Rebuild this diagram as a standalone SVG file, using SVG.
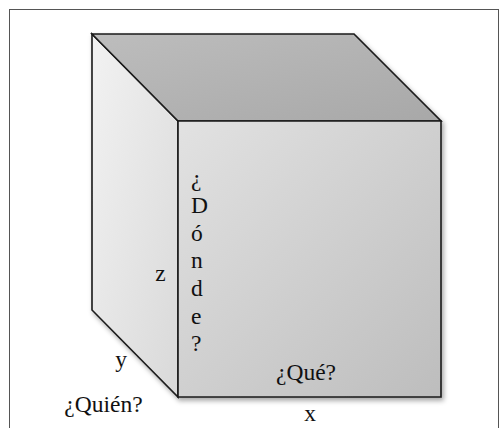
<svg xmlns="http://www.w3.org/2000/svg" width="504" height="428" viewBox="0 0 504 428">
<defs>
<linearGradient id="gLeft" x1="0" y1="0" x2="1" y2="1">
<stop offset="0" stop-color="#f2f2f2"/>
<stop offset="1" stop-color="#d9d9d9"/>
</linearGradient>
<linearGradient id="gTop" x1="0" y1="0" x2="1" y2="1">
<stop offset="0" stop-color="#bdbdbd"/>
<stop offset="1" stop-color="#a8a8a8"/>
</linearGradient>
<linearGradient id="gFront" x1="0" y1="0" x2="1" y2="1">
<stop offset="0" stop-color="#e2e2e2"/>
<stop offset="1" stop-color="#bdbdbd"/>
</linearGradient>
<filter id="shadow" x="-10%" y="-10%" width="125%" height="125%">
<feDropShadow dx="2" dy="3" stdDeviation="2.5" flood-color="#000" flood-opacity="0.35"/>
</filter>
</defs>
<style>
.edge{stroke:#1a1a1a;stroke-width:1.6;stroke-linejoin:miter}
.t{font-family:"Liberation Serif","Times New Roman",serif;font-size:23.5px;fill:#111}
</style>
<rect x="9.5" y="9.5" width="489" height="440" fill="#fff" stroke="#555" stroke-width="1"/>
<g id="cube" filter="url(#shadow)">
<polygon id="left-face" class="edge" points="92,34 178,121 178,397 92,310" fill="url(#gLeft)"/>
<polygon id="top-face" class="edge" points="92,34 354,34 441,121 178,121" fill="url(#gTop)"/>
<polygon id="front-face" class="edge" points="178,121 441,121 441,397 178,397" fill="url(#gFront)"/>
</g>
<g id="labels">
<text class="t" x="160.5" y="281" text-anchor="middle">z</text>
<text class="t" x="121" y="367" text-anchor="middle">y</text>
<text class="t" x="310" y="421" text-anchor="middle">x</text>
<text class="t" x="306" y="380" text-anchor="middle">¿Qué?</text>
<text class="t" x="103.5" y="412" text-anchor="middle">¿Quién?</text>
<g id="donde">
<text class="t" x="191" y="185.5">¿</text>
<text class="t" x="191" y="213.1">D</text>
<text class="t" x="191" y="240.7">ó</text>
<text class="t" x="191" y="268.3">n</text>
<text class="t" x="191" y="295.9">d</text>
<text class="t" x="191" y="323.5">e</text>
<text class="t" x="191" y="351.1">?</text>
</g>
</g>
</svg>
